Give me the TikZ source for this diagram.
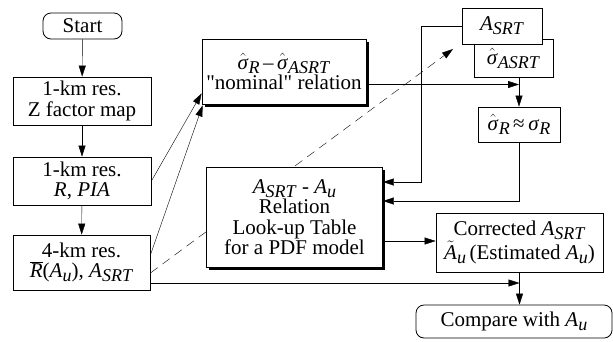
\documentclass[tikz,border=0pt]{standalone}
\usepackage{fontspec}
\setmainfont{Liberation Serif}[Ligatures=TeXOff]
\usetikzlibrary{arrows.meta,shadows,backgrounds}

\newcommand{\ivar}[1]{\textit{#1}}
\newcommand{\lsub}[1]{\raisebox{-4bp}{\fontsize{18bp}{18bp}\selectfont\textit{#1}}}
\newcommand{\hsig}{$\hat{\hbox{\textit{σ}}}$}

\tikzstyle{startstop} = [rectangle, rounded corners=8bp, draw=black, inner sep=0pt, align=center]
\tikzstyle{process} = [rectangle, draw=black, fill=white, inner sep=0pt, align=center]
\tikzstyle{shadowed} = [process, drop shadow={shadow xshift=2.5bp, shadow yshift=-2.5bp, fill=black, opacity=1}]
\tikzstyle{arrow} = [->, >={Stealth[length=11bp,width=7bp,inset=0pt]}]

\begin{document}
\begin{tikzpicture}[x=1bp, y=-1bp, line width=0.8bp, font=\fontsize{21bp}{20.5bp}\selectfont]
\useasboundingbox (0,0) rectangle (613,341);

% left column
\node (start) [startstop, minimum width=79bp, minimum height=26bp] at (82.5,26) {Start};
\node (zmap) [process, minimum width=138bp, minimum height=48bp] at (82,101) {1-km res.\\Z factor map};
\node (rpia) [process, minimum width=138bp, minimum height=48bp] at (82,181) {1-km res.\\\ivar{R}, \ivar{PIA}};
\node (fourkm) [process, minimum width=137bp, minimum height=55bp] at (81.5,262.5) {4-km res.\\$\overline{\hbox{\ivar{R}}}$(\ivar{A}\lsub{u}), \ivar{A}\lsub{SRT}};

% middle and right
\node (nominal) [shadowed, minimum width=164bp, minimum height=65bp] at (284,71.5) {\hsig\lsub{R}\,–\,\hsig\lsub{ASRT}\\"nominal" relation};
\node (sasrt) [process, minimum width=79bp, minimum height=38bp] at (513.5,58) {\hsig\lsub{ASRT}};
\node (asrt) [process, minimum width=80bp, minimum height=36bp] at (502,26) {\ivar{A}\lsub{SRT}};
\node (sigr) [process, minimum width=82bp, minimum height=35bp] at (519,124.5) {\hsig\lsub{R}\,≈\,\ivar{σ}\lsub{R}};
\node (lookup) [shadowed, minimum width=176bp, minimum height=100bp] at (294.5,217) {\ivar{A}\lsub{SRT} - \ivar{A}\lsub{u}\\Relation\\Look-up Table\\for a PDF model};
\node (corrected) [process, minimum width=167bp, minimum height=59bp] at (519.5,242.5) {Corrected \ivar{A}\lsub{SRT}\\$\tilde{\hbox{\ivar{A}}}$\lsub{u}\,(Estimated \ivar{A}\lsub{u})};
\node (compare) [startstop, minimum width=196bp, minimum height=33bp] at (514,321.5) {Compare with \ivar{A}\lsub{u}};

\coordinate (dashend) at (453,49);

\begin{pgfonlayer}{background}
\draw [arrow, dashed, dash pattern=on 9bp off 6bp] ([yshift=-10.5bp]fourkm.east) -- (dashend);
\end{pgfonlayer}

\draw [arrow] (start) -- (zmap);
\draw [arrow] (zmap) -- (rpia);
\draw [arrow] (rpia) -- (fourkm);
\draw [arrow] (rpia.east) -- ([yshift=11bp]nominal.south west);
\draw [arrow] ([yshift=7.5bp]fourkm.east) -- ([xshift=1bp,yshift=-1bp]nominal.south west);
\draw [arrow] ([yshift=-13bp]nominal.east) -- ([yshift=-13bp]nominal.east -| sigr.north);
\draw [arrow] (sigr.north |- sasrt.south) -- (sigr.north);
\draw [arrow] (asrt.west) -- ++(-40,0) |- ([yshift=35bp]lookup.east);
\draw [arrow] (sigr.south) |- ([yshift=16bp]lookup.east);
\draw [arrow] ([yshift=-24bp]lookup.east) -- ([yshift=-24bp]lookup.east -| corrected.west);
\draw [arrow] (corrected.south) -- (corrected.south |- compare.north);
\draw [arrow] ([yshift=-20.5bp]fourkm.east) -- ([yshift=-20.5bp]fourkm.east -| corrected.south);

\end{tikzpicture}
\end{document}
